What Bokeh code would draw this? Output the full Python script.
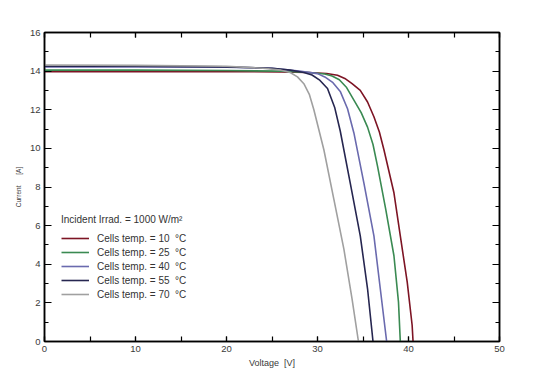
from bokeh.plotting import figure
from bokeh.models import (LinearAxis, SingleIntervalTicker, Legend, LegendItem, Range1d,
                          CustomJSTickFormatter)
from bokeh.embed import file_html
from bokeh.resources import INLINE

# Data
v_10 = [0, 10, 20, 26, 29, 31, 32.2, 33.0, 33.8, 34.7, 35.5, 36.2, 36.8, 37.3, 38.4, 39.1, 39.86, 40.4, 40.5]
i_10 = [13.97, 13.97, 13.97, 13.96, 13.93, 13.88, 13.79, 13.62, 13.35, 13.0, 12.4, 11.64, 10.85, 9.93, 7.7, 5.47, 3.07, 0.84, 0]

v_25 = [0, 10, 20, 26, 29, 30.8, 31.6, 32.4, 33.2, 34.0, 34.8, 35.5, 36.1, 36.6, 37.5, 38.4, 38.9, 39.1]
i_25 = [14.05, 14.05, 14.03, 14.0, 13.93, 13.85, 13.75, 13.55, 13.15, 12.5, 11.85, 11.1, 10.2, 9.07, 6.84, 4.44, 2.04, 0]

v_40 = [0, 10, 20, 25, 28, 30, 30.8, 31.7, 32.5, 33.3, 34.0, 35.1, 36.2, 36.9, 37.6]
i_40 = [14.22, 14.22, 14.2, 14.15, 14.0, 13.87, 13.7, 13.4, 12.95, 12.05, 10.8, 8.2, 5.47, 2.73, 0]

v_55 = [0, 10, 20, 25, 27, 28.5, 29.4, 30.2, 31.1, 31.9, 32.5, 33.6, 34.7, 35.5, 36.1]
i_55 = [14.25, 14.25, 14.22, 14.15, 14.05, 13.93, 13.8, 13.55, 13.1, 12.1, 10.9, 8.2, 5.47, 2.73, 0]

v_70 = [0, 10, 20, 24, 26, 27.0, 27.8, 28.5, 29.1, 29.6, 30.7, 31.8, 32.9, 33.8, 34.5]
i_70 = [14.32, 14.3, 14.25, 14.15, 14.05, 13.93, 13.7, 13.35, 12.8, 12.0, 9.93, 7.36, 4.78, 2.2, 0]

series = [
    ("Cells temp. = 10  \u00b0C", v_10, i_10, "#7d1424"),
    ("Cells temp. = 25  \u00b0C", v_25, i_25, "#3a8a52"),
    ("Cells temp. = 40  \u00b0C", v_40, i_40, "#6a6aae"),
    ("Cells temp. = 55  \u00b0C", v_55, i_55, "#262650"),
    ("Cells temp. = 70  \u00b0C", v_70, i_70, "#a0a0a0"),
]
legend_title = "Incident Irrad. = 1000 W/m\u00b2"
x_label = "Voltage\u00a0\u00a0[V]"
y_label = "Current\u00a0\u00a0\u00a0\u00a0\u00a0\u00a0[A]"

FONT = "Liberation Sans"

p = figure(width=528, height=370, output_backend="svg", toolbar_location=None,
           x_range=Range1d(0, 50), y_range=Range1d(0, 16),
           min_border_left=44, min_border_right=29, min_border_top=32, min_border_bottom=27,
           x_axis_label=x_label, y_axis_label=y_label)
p.grid.visible = False
p.outline_line_color = "black"
p.outline_line_width = 1.5
p.background_fill_color = "white"
p.border_fill_color = "white"

items = []
for label, v, i, c in series:
    r = p.line(v, i, line_color=c, line_width=1.6)
    items.append(LegendItem(label=label, renderers=[r]))

def common(ax, labels):
    ax.major_tick_out = 0
    ax.minor_tick_out = 0
    ax.axis_line_color = "black"
    ax.axis_line_width = 1.5
    ax.major_tick_line_width = 1.2
    ax.minor_tick_line_width = 1.2
    ax.major_label_text_font = FONT
    ax.major_label_text_font_size = "9.5px"
    ax.major_label_text_color = "#3a3a3a"
    ax.major_label_standoff = 4
    if not labels:
        ax.formatter = CustomJSTickFormatter(code="return ''")
        ax.major_label_standoff = 0

def style_x(ax, labels=True):
    ax.ticker = SingleIntervalTicker(interval=10, num_minor_ticks=2)
    ax.major_tick_in = 5
    ax.minor_tick_in = 5
    common(ax, labels)

def style_y(ax, labels=True):
    ax.ticker = SingleIntervalTicker(interval=2, num_minor_ticks=2)
    ax.major_tick_in = 7
    ax.minor_tick_in = 4
    common(ax, labels)

style_x(p.xaxis[0])
style_y(p.yaxis[0])
p.xaxis[0].axis_label_text_font = FONT
p.xaxis[0].axis_label_text_font_size = "9px"
p.xaxis[0].axis_label_text_font_style = "normal"
p.xaxis[0].axis_label_text_color = "#3a3a3a"
p.xaxis[0].axis_label_standoff = 3
p.yaxis[0].axis_label_text_font = FONT
p.yaxis[0].axis_label_text_font_size = "6.5px"
p.yaxis[0].axis_label_text_font_style = "normal"
p.yaxis[0].axis_label_text_color = "#3a3a3a"
p.yaxis[0].axis_label_standoff = 5

top = LinearAxis()
style_x(top, labels=False)
p.add_layout(top, "above")
right = LinearAxis()
style_y(right, labels=False)
p.add_layout(right, "right")

legend = Legend(items=items, title=legend_title, location=(17, 40))
legend.title_text_font = FONT
legend.title_text_font_size = "10px"
legend.title_text_font_style = "normal"
legend.title_text_color = "#333333"
legend.title_standoff = 6
legend.label_text_font = FONT
legend.label_text_font_size = "10px"
legend.label_text_color = "#333333"
legend.label_height = 14
legend.glyph_height = 14
legend.glyph_width = 28
legend.label_standoff = 8
legend.spacing = 0
legend.padding = 5
legend.margin = 0
legend.border_line_color = None
legend.background_fill_alpha = 0
p.add_layout(legend, "center")

open("out.html", "w").write(file_html(p, INLINE))
